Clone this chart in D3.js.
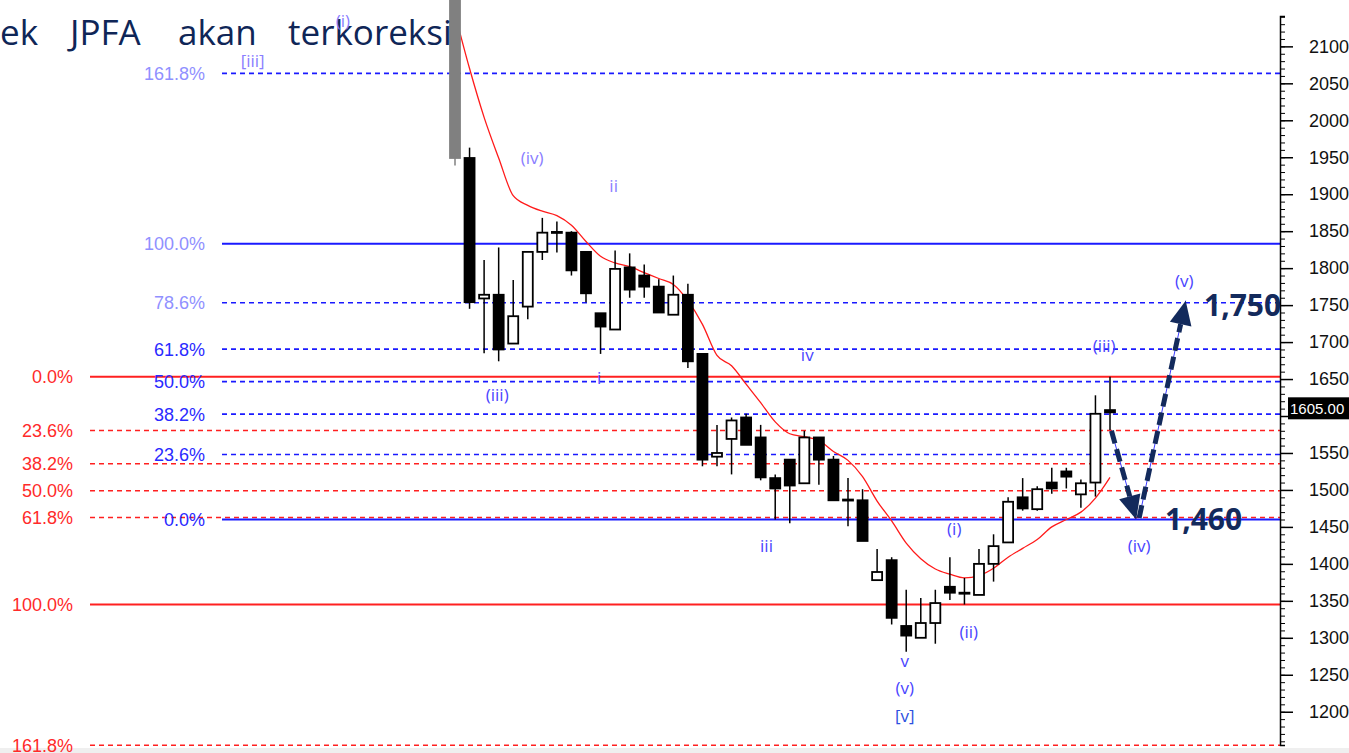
<!DOCTYPE html>
<html>
<head>
<meta charset="utf-8">
<script src="https://cdn.jsdelivr.net/npm/d3@7"></script>
<style>
  html, body { margin: 0; padding: 0; background: #fff; overflow: hidden; }
  svg { display: block; }
</style>
</head>
<body>
<div id="chart"></div>
<script>
// daily candles, index 0..45 (open, high, low, close)
const opens  = [2180,1949,1759,1764,1698,1748,1822,1849,1848,1822,1739,1717,1801,1790,1775,1737,1764,1684,1545,1569,1598,1571,1516,1541,1509,1571,1541,1487,1486,1378,1405,1316,1300,1320,1369,1361,1358,1400,1429,1490,1474,1510,1525,1494,1510,1608];
const highs  = [2200,1963,1811,1828,1784,1822,1868,1863,1850,1822,1739,1824,1820,1805,1785,1790,1779,1684,1588,1598,1603,1588,1521,1541,1580,1571,1546,1516,1501,1420,1409,1365,1354,1365,1409,1381,1420,1440,1490,1516,1505,1530,1530,1514,1628,1653];
const lows   = [1939,1745,1685,1674,1698,1731,1811,1821,1790,1754,1684,1717,1760,1760,1740,1737,1665,1532,1532,1521,1561,1513,1460,1455,1509,1507,1486,1451,1431,1378,1318,1281,1300,1292,1351,1345,1358,1376,1429,1472,1472,1495,1502,1476,1491,1581];
const closes = [1949,1754,1764,1690,1735,1822,1848,1848,1797,1766,1721,1799,1771,1775,1740,1764,1674,1541,1550,1594,1561,1517,1502,1506,1571,1541,1486,1486,1431,1389,1327,1303,1320,1347,1361,1361,1400,1424,1484,1475,1501,1502,1518,1509,1603,1605];

// red moving average, one value per candle
const maValues = [2144,2070,2004,1949,1898,1885,1877,1871,1858,1836,1816,1807,1802,1794,1786,1778,1756,1724,1682,1668,1643,1618,1592,1576,1572,1567,1552,1540,1518,1485,1458,1428,1407,1393,1386,1381,1384,1394,1409,1421,1433,1450,1460,1470,1489,1517];

// fibonacci sets
const blueFibLow = 1460, blueFibHigh = 1833;
const blueFibLevels = [0, 23.6, 38.2, 50.0, 61.8, 78.6, 100.0, 161.8];
const redFibHigh = 1653, redFibLow = 1345;
const redFibLevels = [0, 23.6, 38.2, 50.0, 61.8, 100.0, 161.8];

// elliott wave labels: text, candle index, price
const waveLabels = [
  { t: "(i)",   i: -7.7, v: 2134 },
  { t: "[iii]", i: -13.9, v: 2080 },
  { t: "(iv)",  i: 5.3,  v: 1949 },
  { t: "ii",    i: 10.9, v: 1911 },
  { t: "(iii)", i: 2.9,  v: 1628 },
  { t: "i",     i: 9.9,  v: 1652 },
  { t: "iv",    i: 24.2, v: 1682 },
  { t: "iii",   i: 21.4, v: 1424 },
  { t: "(i)",   i: 34.3, v: 1447 },
  { t: "(ii)",  i: 35.3, v: 1308 },
  { t: "v",     i: 30.9, v: 1269 },
  { t: "(v)",   i: 30.9, v: 1232 },
  { t: "[v]",   i: 30.9, v: 1194 },
  { t: "(iii)", i: 44.6, v: 1694 },
  { t: "(v)",   i: 50.1, v: 1783 },
  { t: "(iv)",  i: 47.0, v: 1424 }
];

// forecast path: from last bar down to 1,460 then up to 1,750
const forecastDown = [{ i: 45.1, v: 1580 }, { i: 46.8, v: 1460 }];
const forecastUp = [{ i: 47.0, v: 1462 }, { i: 50.2, v: 1756 }];
const targets = [{ text: "1,460", v: 1460 }, { text: "1,750", v: 1750 }];

const yTicks = d3.range(1200, 2101, 50);
const yMinorTicks = d3.range(1160, 2141, 10);
const lastPriceText = "1605.00";
const titleWords = ["ek", "JPFA", "akan", "terkoreksi"];

const width = 1349, height = 753;
const svg = d3.select("#chart").append("svg").attr("width", width).attr("height", height);

const x = d3.scaleLinear().domain([0, 45]).range([455, 1110]);
const y = d3.scaleLinear().domain([1155, 2160]).range([745, 2]);
const axisX = 1280;

svg.append("defs").append("clipPath").attr("id", "plot")
  .append("rect").attr("x", 0).attr("y", 0).attr("width", axisX).attr("height", 748);

// bottom strip
svg.append("rect").attr("x", 0).attr("y", 748).attr("width", width).attr("height", 5).attr("fill", "#efefef");

const plot = svg.append("g").attr("clip-path", "url(#plot)");

// title text overlay
const titleX = [0, 70, 178, 288];
svg.append("g").selectAll("text").data(titleWords).enter().append("text")
  .attr("x", (d, i) => titleX[i]).attr("y", 45)
  .style("font-family", "'Open Sans', 'Noto Sans', sans-serif").style("font-size", "35px")
  .style("fill", "#0f2657").text(d => d);

// fib lines
const fibLabelFont = "'Liberation Sans', Arial, sans-serif";
const blueFib = blueFibLevels.map(p => ({ p, v: blueFibLow + (blueFibHigh - blueFibLow) * p / 100 }));
const redFib = redFibLevels.map(p => ({ p, v: redFibHigh - (redFibHigh - redFibLow) * p / 100 }));

plot.selectAll(".redfib").data(redFib).enter().append("line")
  .attr("x1", 90).attr("x2", axisX).attr("y1", d => y(d.v)).attr("y2", d => y(d.v))
  .attr("stroke", "#ff2020")
  .attr("stroke-width", d => (d.p === 0 || d.p === 100) ? 2 : 1.6)
  .attr("stroke-dasharray", d => (d.p === 0 || d.p === 100) ? null : "5,4");

plot.selectAll(".bluefib").data(blueFib).enter().append("line")
  .attr("x1", 222).attr("x2", axisX).attr("y1", d => y(d.v)).attr("y2", d => y(d.v))
  .attr("stroke", "#1a1aff")
  .attr("stroke-width", d => (d.p === 0 || d.p === 100) ? 2 : 1.6)
  .attr("stroke-dasharray", d => (d.p === 0 || d.p === 100) ? null : "5,4");

svg.append("g").selectAll("text").data(redFib).enter().append("text")
  .attr("x", 73).attr("y", d => y(d.v)).attr("dy", "0.36em").attr("text-anchor", "end")
  .style("font-family", fibLabelFont).style("font-size", "18px").style("fill", "#ff2a2a")
  .text(d => d.p.toFixed(1) + "%");

svg.append("g").selectAll("text").data(blueFib).enter().append("text")
  .attr("x", 205).attr("y", d => y(d.v)).attr("dy", "0.36em").attr("text-anchor", "end")
  .style("font-family", fibLabelFont).style("font-size", "18px")
  .style("fill", d => d.p > 62 ? "#9090ff" : "#2a2aff")
  .text(d => d.p.toFixed(1) + "%");

// moving average
const ma = d3.line().x((d, i) => x(i)).y(d => y(d)).curve(d3.curveMonotoneX);
plot.append("path").datum(maValues).attr("d", ma)
  .attr("fill", "none").attr("stroke", "#ff1a1a").attr("stroke-width", 1.3);

// candles
const candles = opens.map((o, i) => ({ i, o, h: highs[i], l: lows[i], c: closes[i] }));
const bodyW = 10;
const cg = plot.append("g");
cg.selectAll(".wick").data(candles).enter().append("line")
  .attr("x1", d => x(d.i)).attr("x2", d => x(d.i))
  .attr("y1", d => y(d.h)).attr("y2", d => y(d.l))
  .attr("stroke", d => d.i === 0 ? "#808080" : "#000").attr("stroke-width", 1.5);
cg.selectAll(".body").data(candles).enter().append("rect")
  .attr("x", d => x(d.i) - bodyW / 2)
  .attr("y", d => y(Math.max(d.o, d.c)))
  .attr("width", bodyW)
  .attr("height", d => Math.max(1, Math.abs(y(d.o) - y(d.c))))
  .attr("fill", d => d.i === 0 ? "#808080" : (d.c >= d.o ? "#fff" : "#000"))
  .attr("stroke", d => d.i === 0 ? "#808080" : "#000")
  .attr("stroke-width", 1.8);

// wave labels
svg.append("g").selectAll("text").data(waveLabels).enter().append("text")
  .attr("x", d => x(d.i)).attr("y", d => y(d.v)).attr("dy", "0.35em").attr("text-anchor", "middle")
  .style("font-family", "'Open Sans', 'Noto Sans', sans-serif").style("font-size", "17px")
  .style("fill", d => (d.v > 1900 ? "#8a7dff" : d.t === "[v]" ? "#2c4fe0" : "#4a44ff"))
  .text(d => d.t);

// forecast arrows
const navy = "#132a5c";
function arrow(pts) {
  const x1 = x(pts[0].i), y1 = y(pts[0].v), x2 = x(pts[1].i), y2 = y(pts[1].v);
  const ang = Math.atan2(y2 - y1, x2 - x1);
  const headL = 24, headW = 11;
  const bx = x2 - headL * Math.cos(ang), by = y2 - headL * Math.sin(ang);
  svg.append("line").attr("x1", x1).attr("y1", y1).attr("x2", x2).attr("y2", y2)
    .attr("stroke", "#3a3aff").attr("stroke-width", 1);
  svg.append("line").attr("x1", x1).attr("y1", y1).attr("x2", bx).attr("y2", by)
    .attr("stroke", navy).attr("stroke-width", 5).attr("stroke-dasharray", "13,6");
  const px = -Math.sin(ang), py = Math.cos(ang);
  svg.append("path")
    .attr("d", `M${x2},${y2}L${bx + px * headW},${by + py * headW}L${bx - px * headW},${by - py * headW}Z`)
    .attr("fill", navy);
}
arrow(forecastDown);
arrow(forecastUp);

svg.append("text").attr("x", 1165).attr("y", y(targets[0].v)).attr("dy", "0.36em")
  .style("font-family", "'Open Sans', 'Noto Sans', sans-serif").style("font-size", "30px").style("font-weight", "700")
  .style("fill", navy).text(targets[0].text);
svg.append("text").attr("x", 1204).attr("y", y(targets[1].v)).attr("dy", "0.36em")
  .style("font-family", "'Open Sans', 'Noto Sans', sans-serif").style("font-size", "30px").style("font-weight", "700")
  .style("fill", navy).text(targets[1].text);

// right price axis
const lastClose = closes[closes.length - 1];
const yAxisScale = y.copy().domain([1155, 2141]).range([y(1155), y(2141)]);
const axisG = svg.append("g").attr("transform", `translate(${axisX},0)`);
axisG.call(d3.axisRight(yAxisScale).tickValues(yMinorTicks).tickSize(5).tickFormat(""))
  .call(g => g.selectAll("line").attr("stroke", "#000"))
  .call(g => g.select(".domain").attr("stroke", "#000").attr("stroke-width", 1.5));
axisG.append("g").call(d3.axisRight(yAxisScale).tickValues(yTicks).tickSize(13).tickPadding(16)
    .tickFormat(d => Math.abs(d - lastClose) < 30 ? "" : d3.format("d")(d)))
  .call(g => g.select(".domain").remove())
  .call(g => g.selectAll("line").attr("stroke", "#000").attr("stroke-width", 1.5))
  .call(g => g.selectAll("text").style("font-family", fibLabelFont).style("font-size", "18px").style("fill", "#111"));

// last price marker
const lastY = y(lastClose);
svg.append("rect").attr("x", 1288).attr("y", lastY - 15).attr("width", 62).attr("height", 22).attr("fill", "#000");
svg.append("text").attr("x", 1290).attr("y", lastY - 4).attr("dy", "0.36em")
  .style("font-family", fibLabelFont).style("font-size", "15px").style("fill", "#fff").text(lastPriceText);
</script>
</body>
</html>
